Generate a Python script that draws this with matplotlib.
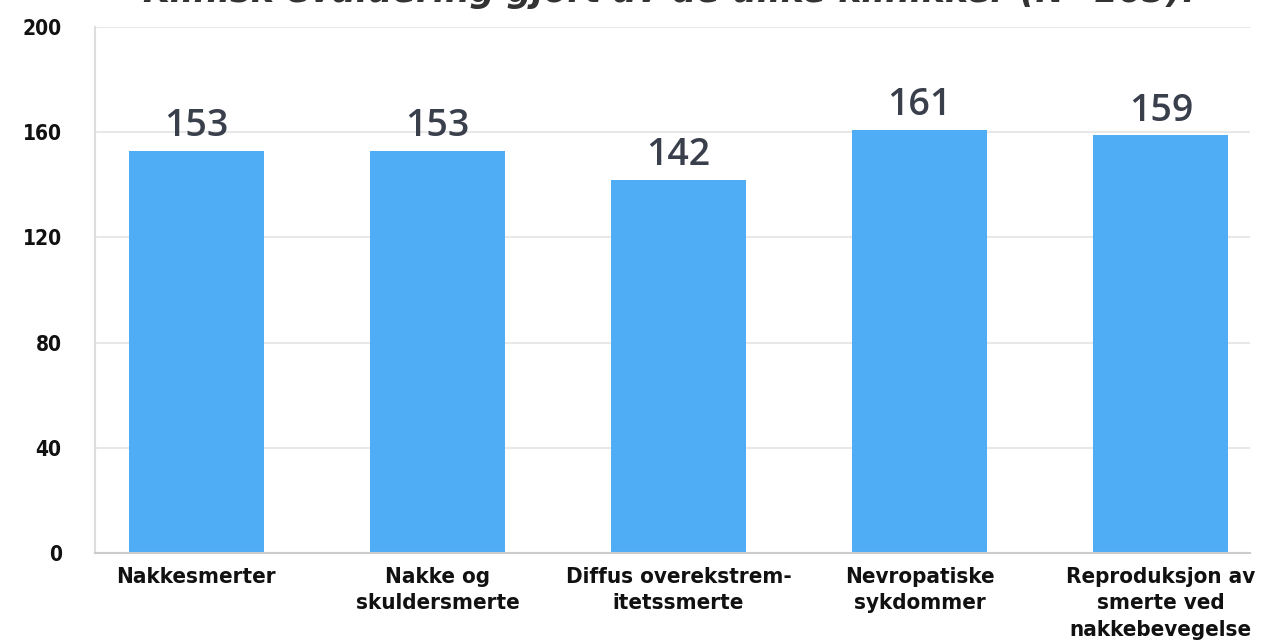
import matplotlib
matplotlib.use("Agg")
import matplotlib.pyplot as plt

kategorier = ["Nakkesmerter", "Nakke og\nskuldersmerte", "Diffus overekstrem-\nitetssmerte",
              "Nevropatiske\nsykdommer", "Reproduksjon av\nsmerte ved\nnakkebevegelse"]
verdier = [153, 153, 142, 161, 159]
y_ticks = [0, 40, 80, 120, 160, 200]
tittel = "Klinisk evaluering gjort av de ulike klinikker (N=165)."

fig = plt.figure(figsize=(12.62, 6.44), dpi=100)
ax = fig.add_axes([95 / 1262, 1 - 553 / 644, 1155 / 1262, 526 / 644])

x = list(range(len(kategorier)))
bars = ax.bar(x, verdier, width=0.56, color="#4fadf5", zorder=2)

for b, v in zip(bars, verdier):
    ax.text(b.get_x() + b.get_width() / 2, v + 2, str(v), ha="center", va="bottom",
            fontsize=27, color="#3a3f4c", family="Open Sans", fontweight="semibold")

ax.set_ylim(0, 200)
ax.set_xlim(-0.42, 4.37)
ax.set_yticks(y_ticks)
ax.set_yticklabels([str(t) for t in y_ticks], fontsize=15, family="DejaVu Sans",
                   fontstretch="condensed", fontweight="bold", color="#111111")
ax.set_xticks(x)
ax.set_xticklabels(kategorier, fontsize=16, family="DejaVu Sans", fontstretch="condensed",
                   fontweight="bold", color="#111111", linespacing=1.4)
ax.tick_params(axis="y", length=0, pad=24)
ax.tick_params(axis="x", length=0, pad=10)

ax.grid(axis="y", color="#e8e8e8", linewidth=1.5, zorder=0)
for s in ["top", "right"]:
    ax.spines[s].set_visible(False)
ax.spines["left"].set_color("#dddddd")
ax.spines["bottom"].set_color("#cccccc")
ax.spines["left"].set_linewidth(1.5)
ax.spines["bottom"].set_linewidth(1.5)

# tittelen er kuttet i toppen som i originalen
fig.text(0.53, 1 - 2 / 644, tittel, ha="center", va="baseline", fontsize=25, fontweight="bold",
         color="#333333", style="italic")

fig.savefig("out.png", dpi=100)
